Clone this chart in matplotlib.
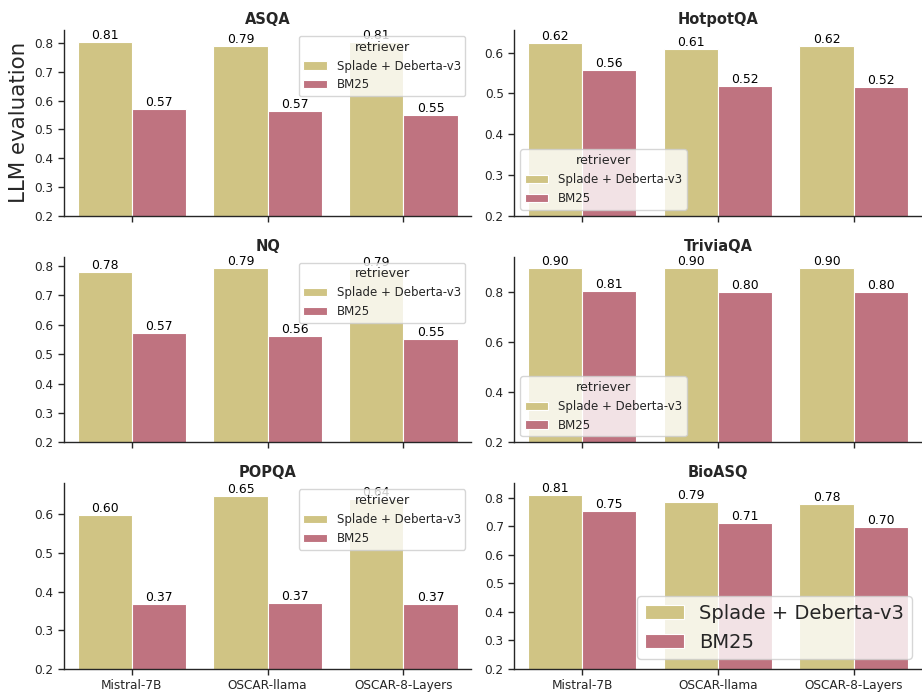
import matplotlib
matplotlib.use("Agg")
import matplotlib.pyplot as plt
import numpy as np
import colorsys
from matplotlib.colors import to_rgb

# --- data -------------------------------------------------------------
models = ["Mistral-7B", "OSCAR-llama", "OSCAR-8-Layers"]
retrievers = ["Splade + Deberta-v3", "BM25"]
datasets = ["ASQA", "HotpotQA", "NQ", "TriviaQA", "POPQA", "BioASQ"]

asqa_splade = [0.806, 0.792, 0.806]
asqa_bm25 = [0.570, 0.566, 0.551]
hotpotqa_splade = [0.624, 0.608, 0.617]
hotpotqa_bm25 = [0.558, 0.517, 0.516]
nq_splade = [0.780, 0.792, 0.790]
nq_bm25 = [0.571, 0.561, 0.550]
triviaqa_splade = [0.896, 0.897, 0.897]
triviaqa_bm25 = [0.806, 0.801, 0.801]
popqa_splade = [0.598, 0.647, 0.638]
popqa_bm25 = [0.367, 0.371, 0.369]
bioasq_splade = [0.809, 0.786, 0.779]
bioasq_bm25 = [0.752, 0.711, 0.696]

scores = {
    "ASQA": (asqa_splade, asqa_bm25),
    "HotpotQA": (hotpotqa_splade, hotpotqa_bm25),
    "NQ": (nq_splade, nq_bm25),
    "TriviaQA": (triviaqa_splade, triviaqa_bm25),
    "POPQA": (popqa_splade, popqa_bm25),
    "BioASQ": (bioasq_splade, bioasq_bm25),
}

base_colors = ["#DDCC77", "#CC6677"]


def desaturate(color, prop=0.75):
    h, l, s = colorsys.rgb_to_hls(*to_rgb(color))
    return colorsys.hls_to_rgb(h, l, s * prop)


colors = [desaturate(c) for c in base_colors]

# --- style ------------------------------------------------------------
dark = "#262626"
plt.rcParams.update({
    "font.family": ["DejaVu Sans"],
    "axes.edgecolor": dark,
    "axes.linewidth": 1.0,
    "xtick.color": dark,
    "ytick.color": dark,
    "xtick.labelcolor": dark,
    "ytick.labelcolor": dark,
    "xtick.major.size": 4,
    "ytick.major.size": 4,
    "xtick.major.width": 1.0,
    "ytick.major.width": 1.0,
    "xtick.labelsize": 8.7,
    "ytick.labelsize": 8.7,
    "axes.titlesize": 10.5,
    "axes.titleweight": "bold",
    "axes.titlecolor": dark,
    "axes.titlepad": 4.5,
    "legend.edgecolor": "0.8",
})

fig, axes = plt.subplots(3, 2, figsize=(9.22, 6.92), dpi=100, sharex=True)
fig.subplots_adjust(left=0.0694, right=0.9995, top=0.9566, bottom=0.0332,
                    wspace=0.1055, hspace=0.222)

x = np.arange(len(models))
width = 0.4

for ax, name in zip(axes.flat, datasets):
    series = scores[name]
    for i, (vals, label) in enumerate(zip(series, retrievers)):
        offs = (i - 0.5) * width
        bars = ax.bar(x + offs, vals, width, color=colors[i], label=label,
                      edgecolor="white", linewidth=0.8)
        ax.bar_label(bars, fmt="%.2f", fontsize=8.9, color="black", padding=0)
    ax.set_ylim(bottom=0.2)
    ax.set_xlim(-0.5, len(models) - 0.5)
    ax.set_title(name)
    ax.spines["top"].set_visible(False)
    ax.spines["right"].set_visible(False)
    ax.tick_params(axis="both", direction="out")

axes[0, 0].set_ylabel("LLM evaluation", fontsize=15.4, color=dark)
axes[2, 0].set_xticks(x)
axes[2, 0].set_xticklabels(models)
axes[2, 1].set_xticklabels(models)

legend_locs = {
    "ASQA": "upper right",
    "HotpotQA": "lower left",
    "NQ": "upper right",
    "TriviaQA": "lower left",
    "POPQA": "upper right",
}
for ax, name in zip(axes.flat, datasets):
    if name in legend_locs:
        leg = ax.legend(title="retriever", loc=legend_locs[name],
                        fontsize=8.5, title_fontsize=9.1)
        leg.get_title().set_color(dark)
        for t in leg.get_texts():
            t.set_color(dark)
    else:
        leg = ax.legend(loc="lower right", fontsize=14)
        for t in leg.get_texts():
            t.set_color(dark)

fig.savefig("out.png", dpi=100)
